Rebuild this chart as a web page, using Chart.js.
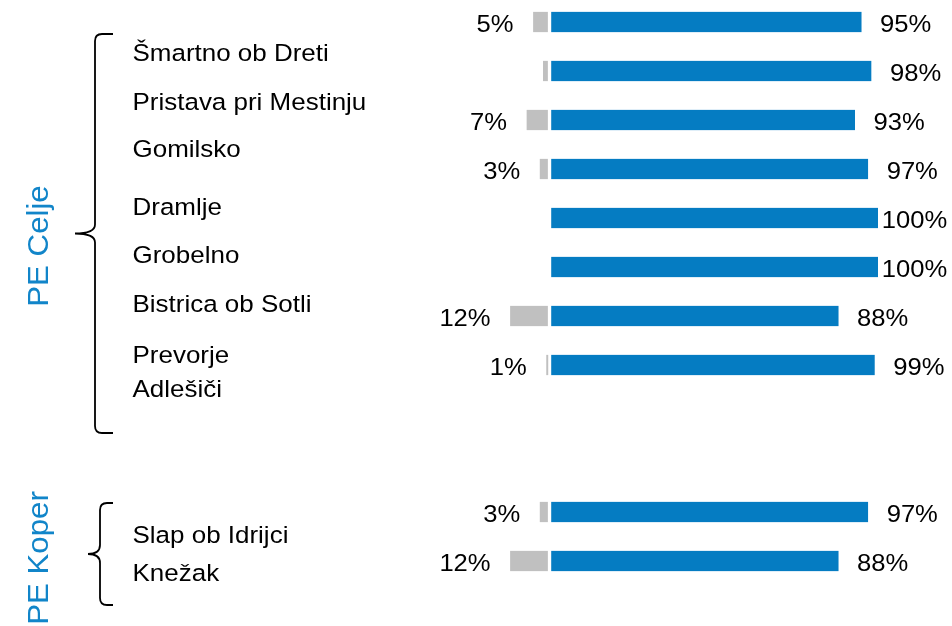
<!DOCTYPE html>
<html>
<head>
<meta charset="utf-8">
<script src="https://cdn.jsdelivr.net/npm/chart.js@4.4.1/dist/chart.umd.min.js"></script>
<style>
  html, body { margin: 0; padding: 0; background: #fff; }
  canvas { display: block; }
</style>
</head>
<body>
<canvas id="chart" width="952" height="626"></canvas>
<script>
const celjeSites = ['Šmartno ob Dreti', 'Pristava pri Mestinju', 'Gomilsko', 'Dramlje', 'Grobelno', 'Bistrica ob Sotli', 'Prevorje', 'Adlešiči'];
const koperSites = ['Slap ob Idrijci', 'Knežak'];
const groupNames = ['PE Celje', 'PE Koper'];

const blueShare = [95, 98, 93, 97, 100, 100, 88, 99, 97, 88];
const greyShare = [5, 2, 7, 3, 0, 0, 12, 1, 3, 12];
const greyLabels = ['5%', '', '7%', '3%', '', '', '12%', '1%', '3%', '12%'];

// two empty rows separate the groups
const gapRows = 2;
const withGap = arr => [...arr.slice(0, celjeSites.length), ...Array(gapRows).fill(null), ...arr.slice(celjeSites.length)];
const rows = withGap([...celjeSites, ...koperSites]).map(s => s || '');

const FONT = '"Liberation Sans", Arial, sans-serif';
const BLUE = '#057cc2';
const GREY = '#c0c0c0';
const VALUE_SX = 1.045; // text is drawn slightly wide
const SITE_SX = 1.06;

// site names sit in their own column, baselines in px
const siteBaselines = [60.7, 110, 157.3, 215, 263, 311.7, 363, 397, 542.7, 580.7];

function wideText(ctx, text, x, y, align, sx) {
  ctx.save();
  ctx.translate(x, y);
  ctx.scale(sx, 1);
  ctx.textAlign = align;
  ctx.fillText(text, 0, 0);
  ctx.restore();
}

function brace(ctx, x, top, bottom, tipX, hookX) {
  const mid = (top + bottom) / 2;
  ctx.beginPath();
  ctx.moveTo(hookX, top);
  ctx.lineTo(x + 7, top);
  ctx.quadraticCurveTo(x, top, x, top + 7);
  ctx.lineTo(x, mid - 9);
  ctx.quadraticCurveTo(x, mid, tipX, mid);
  ctx.quadraticCurveTo(x, mid, x, mid + 9);
  ctx.lineTo(x, bottom - 7);
  ctx.quadraticCurveTo(x, bottom, x + 7, bottom);
  ctx.lineTo(hookX, bottom);
  ctx.stroke();
}

const sideText = {
  id: 'sideText',
  afterDraw(chart) {
    const ctx = chart.ctx;
    const grey = chart.getDatasetMeta(0).data;
    const blue = chart.getDatasetMeta(1).data;
    const rowOf = i => (i < celjeSites.length ? i : i + gapRows);

    ctx.save();
    ctx.fillStyle = '#000';
    ctx.font = '24.5px ' + FONT;
    ctx.textBaseline = 'alphabetic';

    blueShare.forEach((v, i) => {
      const r = rowOf(i);
      const bar = blue[r];
      const txt = v + '%';
      const w = ctx.measureText(txt).width * VALUE_SX;
      const x = Math.min(bar.x + 18.5, chart.width - 4.7 - w);
      wideText(ctx, txt, x, bar.y + 10.3, 'left', VALUE_SX);

      const g = grey[r];
      if (greyLabels[i] && greyShare[i]) {
        wideText(ctx, greyLabels[i], g.x - 19.5, g.y + 10.3, 'right', VALUE_SX);
      }
    });

    [...celjeSites, ...koperSites].forEach((name, i) => {
      wideText(ctx, name, 132.5, siteBaselines[i], 'left', SITE_SX);
    });

    // group braces
    ctx.strokeStyle = '#000';
    ctx.lineWidth = 1.8;
    brace(ctx, 95, 34, 433, 75, 113);
    brace(ctx, 100, 503, 605, 88, 113);

    // rotated group names
    ctx.fillStyle = '#1185c9';
    ctx.font = '30px ' + FONT;
    [[groupNames[0], 246], [groupNames[1], 558]].forEach(([t, cy]) => {
      ctx.save();
      ctx.translate(48.3, cy);
      ctx.rotate(-Math.PI / 2);
      wideText(ctx, t, 0, 0, 'center', 1.04);
      ctx.restore();
    });
    ctx.restore();
  }
};

new Chart(document.getElementById('chart'), {
  type: 'bar',
  data: {
    labels: rows,
    datasets: [
      {
        label: 'ne',
        data: withGap(greyShare).map(v => (v ? -v : null)),
        backgroundColor: GREY,
        borderColor: '#fff',
        borderWidth: { right: 2 },
        borderSkipped: false,
        barThickness: 20.5,
        clip: false,
      },
      {
        label: 'da',
        data: withGap(blueShare),
        backgroundColor: BLUE,
        borderColor: '#fff',
        borderWidth: { left: 2 },
        borderSkipped: false,
        barThickness: 20.5,
        clip: false,
      },
    ],
  },
  options: {
    indexAxis: 'y',
    responsive: false,
    animation: false,
    devicePixelRatio: 1,
    layout: { padding: { left: 451, right: 74, top: 22, bottom: 65 } },
    scales: {
      x: { type: 'linear', min: -30, max: 100, stacked: true, display: false },
      y: { type: 'category', offset: false, stacked: true, display: false },
    },
    plugins: {
      legend: { display: false },
      tooltip: { enabled: false },
    },
  },
  plugins: [sideText],
});
</script>
</body>
</html>
